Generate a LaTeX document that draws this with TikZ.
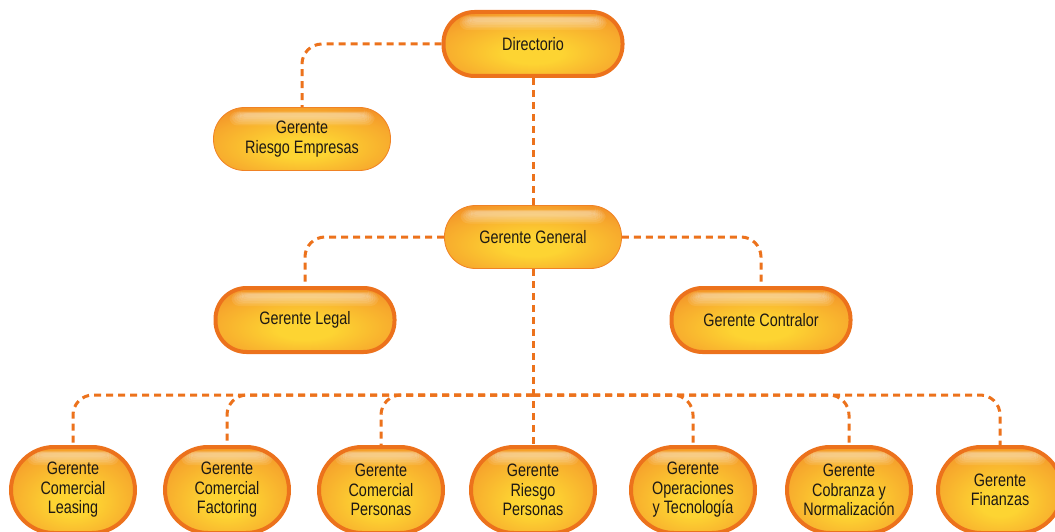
\documentclass[tikz,border=0pt]{standalone}
\usepackage{fontspec}
\setmainfont{Liberation Sans}[FakeStretch=0.8]
\usetikzlibrary{calc,backgrounds}
\definecolor{ob}{RGB}{236,114,28}
\definecolor{oy}{RGB}{253,212,50}
\definecolor{om}{RGB}{247,170,45}
\definecolor{od}{RGB}{240,130,36}
\definecolor{tx}{RGB}{30,25,20}
\pgfdeclareradialshading{pillshade}{\pgfpoint{0bp}{-8bp}}{color(0bp)=(oy); color(8bp)=(oy); color(26bp)=(om); color(40bp)=(od); color(80bp)=(od)}
\tikzset{
  base/.style={shape=rectangle, shading=pillshade, align=center, text=tx,
    font=\fontsize{18}{19.5}\selectfont,
    path picture={
      \foreach \k in {0,...,5}{
        \fill[white,opacity=0.09,rounded corners=8pt]
        ($(path picture bounding box.north west)+(16pt+2*\k pt,-4pt-0.4*\k pt)$) rectangle
        ($(path picture bounding box.north east)+(-16pt-2*\k pt,-18pt+1.6*\k pt)$);}}},
  pill/.style={base, rounded corners=31pt, minimum width=179pt, minimum height=64pt, draw=ob, line width=4pt},
  softpill/.style={base, rounded corners=31pt, minimum width=177pt, minimum height=63pt, draw=od, line width=0.8pt},
  oval/.style={base, rounded corners=43pt, minimum width=124pt, minimum height=86pt, draw=ob, line width=4pt},
  conn/.style={draw=ob, line width=3pt, dash pattern=on 7pt off 5pt, rounded corners=20pt}
}
\begin{document}
\begin{tikzpicture}[x=1pt,y=-1pt]
\useasboundingbox (0,0) rectangle (1055,532);
\clip (0,0) rectangle (1055,532);
\node[pill] (dir) at (533,44) {Directorio};
\node[softpill] (re) at (302,139) {Gerente\\Riesgo Empresas};
\node[softpill] (gg) at (533,237) {Gerente General};
\node[pill] (lg) at (305,320) {Gerente Legal};
\node[pill] (ct) at (761,320) {Gerente Contralor};
\node[oval] (b1) at (73,490) {Gerente\\Comercial\\Leasing};
\node[oval] (b2) at (227,490) {Gerente\\Comercial\\Factoring};
\node[oval] (b3) at (381,490) {Gerente\\Comercial\\Personas};
\node[oval] (b4) at (533,490) {Gerente\\Riesgo\\Personas};
\node[oval] (b5) at (693,490) {Gerente\\Operaciones\\y Tecnología};
\node[oval] (b6) at (849,490) {Gerente\\Cobranza y\\Normalización};
\node[oval] (b7) at (1000,490) {Gerente\\Finanzas};
\coordinate (bus) at (533,395);
\begin{scope}[on background layer]
\draw[conn] (dir.west) -| (re.north);
\draw[conn] (dir.south) -- (gg.north);
\draw[conn] (gg.west) -| (lg.north);
\draw[conn] (gg.east) -| (ct.north);
\draw[conn] (gg.south) -- (b4.north);
\foreach \b in {b1,b2,b3,b5,b6,b7} \draw[conn] (bus) -| (\b.north);
\end{scope}
\end{tikzpicture}
\end{document}
